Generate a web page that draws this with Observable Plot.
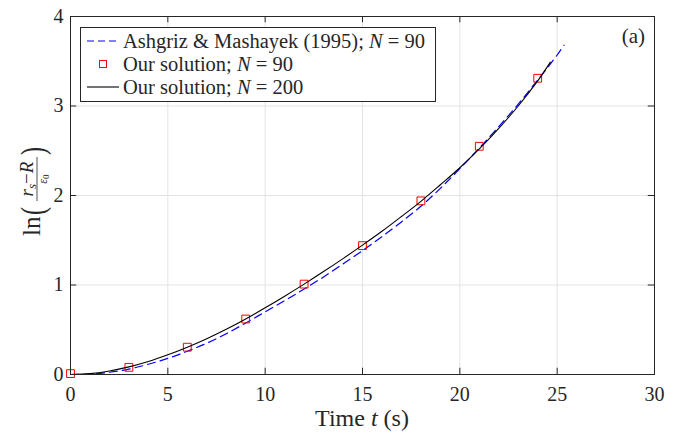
<!DOCTYPE html>
<html>
<head>
<meta charset="utf-8">
<script src="https://cdn.jsdelivr.net/npm/d3@7"></script>
<script src="https://cdn.jsdelivr.net/npm/@observablehq/plot@0.6"></script>
<style>
  html, body { margin: 0; padding: 0; background: #fff; }
  #chart { position: relative; width: 688px; height: 438px; }
</style>
</head>
<body>
<div id="chart"></div>
<script>
// ---- data ----
const xTicks = [0, 5, 10, 15, 20, 25, 30];
const yTicks = [0, 1, 2, 3, 4];

// Ashgriz & Mashayek (1995); N = 90 (dashed blue)
const refT = [0, 1, 2, 3, 4, 5, 6, 7, 8, 9, 10, 11, 12, 13, 14, 15, 16, 17, 18, 19, 20, 21, 22, 23, 24, 25, 25.35];
const refY = [0, 0.005, 0.025, 0.06, 0.115, 0.18, 0.26, 0.35, 0.455, 0.575, 0.70, 0.825, 0.955, 1.09, 1.235, 1.385, 1.54, 1.705, 1.88, 2.08, 2.3, 2.53, 2.77, 3.02, 3.29, 3.57, 3.68];

// Our solution; N = 90 (red squares)
const n90T = [0, 3, 6, 9, 12, 15, 18, 21, 24];
const n90Y = [0.01, 0.08, 0.305, 0.62, 1.01, 1.44, 1.94, 2.55, 3.31];

// Our solution; N = 200 (solid black)
const n200T = [0, 1, 2, 3, 4, 5, 6, 7, 8, 9, 10, 11, 12, 13, 14, 15, 16, 17, 18, 19, 20, 21, 22, 23, 24, 24.65];
const n200Y = [0, 0.01, 0.04, 0.085, 0.145, 0.22, 0.305, 0.4, 0.505, 0.62, 0.745, 0.875, 1.01, 1.15, 1.295, 1.445, 1.6, 1.765, 1.935, 2.12, 2.31, 2.52, 2.75, 3.0, 3.28, 3.49];

const legendLabels = ["Ashgriz & Mashayek (1995); ", "Our solution; ", "Our solution; "];
const legendN = ["90", "90", "200"];

// ---- tables ----
const ref = refT.map((t, i) => ({t, y: refY[i]}));
const n90 = n90T.map((t, i) => ({t, y: n90Y[i]}));
const n200 = n200T.map((t, i) => ({t, y: n200Y[i]}));

const axisColor = "#262626";
const gridColor = "#e3e3e3";
const font = "'Liberation Serif', 'DejaVu Serif', serif";

const plot = Plot.plot({
  width: 688,
  height: 438,
  marginLeft: 70,
  marginRight: 34,
  marginTop: 16,
  marginBottom: 64,
  style: {fontFamily: font, fontSize: "20px", color: axisColor, background: "#fff"},
  x: {domain: [0, 30], label: null},
  y: {domain: [0, 4], label: null},
  marks: [
    Plot.ruleX(xTicks.slice(1, -1), {stroke: gridColor, strokeWidth: 1}),
    Plot.ruleY(yTicks.slice(1, -1), {stroke: gridColor, strokeWidth: 1}),
    // inward ticks
    Plot.ruleX(xTicks, {y1: 0, y2: 0.07, stroke: axisColor}),
    Plot.ruleX(xTicks, {y1: 4, y2: 3.93, stroke: axisColor}),
    Plot.ruleY(yTicks, {x1: 0, x2: 0.32, stroke: axisColor}),
    Plot.ruleY(yTicks, {x1: 30, x2: 29.68, stroke: axisColor}),
    Plot.axisX({ticks: xTicks, tickSize: 0, tickPadding: 12.5, tickFormat: d => d, fill: axisColor}),
    Plot.axisY({ticks: yTicks, tickSize: 0, tickPadding: 7, tickFormat: d => d, fill: axisColor}),
    Plot.line(ref, {x: "t", y: "y", stroke: "#0000ff", strokeWidth: 1.2, strokeDasharray: "8,5", curve: "catmull-rom"}),
    Plot.dot(n90, {x: "t", y: "y", symbol: "square", r: 4.4, stroke: "#ff0000", strokeWidth: 1, fill: "none"}),
    Plot.line(n200, {x: "t", y: "y", stroke: "#000", strokeWidth: 1.1, curve: "catmull-rom"}),
    Plot.frame({stroke: axisColor, strokeWidth: 1})
  ]
});

document.getElementById("chart").appendChild(plot);

// ---- annotations: axis titles, legend, panel label ----
const svg = d3.select(plot);
const xs = plot.scale("x"), ys = plot.scale("y");
const pLeft = xs.apply(0), pRight = xs.apply(30), pTop = ys.apply(4), pBottom = ys.apply(0);

// x title
const xt = svg.append("text")
  .attr("x", (pLeft + pRight) / 2).attr("y", 426)
  .attr("text-anchor", "middle")
  .attr("font-family", font).attr("font-size", 24).attr("fill", axisColor);
xt.append("tspan").text("Time ");
xt.append("tspan").attr("font-style", "italic").text("t");
xt.append("tspan").text(" (s)");

// y title: ln( (r_s − R) / ε0 )
const yg = svg.append("g")
  .attr("transform", `translate(40, ${(pTop + pBottom) / 2}) rotate(-90)`)
  .attr("font-family", font).attr("fill", axisColor).attr("text-anchor", "start");
yg.append("text").attr("x", -41).attr("y", 0).attr("font-size", 25).text("ln");
yg.append("text").attr("transform", "translate(-20,4) scale(1,1.4)").attr("font-size", 24).text("(");
const num = yg.append("text").attr("x", 16).attr("y", -7).attr("text-anchor", "middle").attr("font-size", 19);
num.append("tspan").attr("font-style", "italic").text("r");
num.append("tspan").attr("font-style", "italic").attr("font-size", 13).attr("dy", 3).text("s");
num.append("tspan").attr("dy", -3).text("\u2212");
num.append("tspan").attr("font-style", "italic").text("R");
yg.append("line").attr("x1", -6).attr("x2", 38).attr("y1", -3).attr("y2", -3).attr("stroke", axisColor).attr("stroke-width", 0.8);
const den = yg.append("text").attr("x", 16).attr("y", 7).attr("text-anchor", "middle").attr("font-size", 12);
den.append("tspan").attr("font-style", "italic").text("\u03b5");
den.append("tspan").attr("font-size", 9).attr("dy", 2).text("0");
yg.append("text").attr("transform", "translate(40,4) scale(1,1.4)").attr("font-size", 24).text(")");

// legend
const lg = svg.append("g").attr("font-family", font).attr("font-size", 20.5).attr("fill", axisColor).attr("text-anchor", "start");
lg.append("rect").attr("x", 80.5).attr("y", 27.5).attr("width", 355).attr("height", 74)
  .attr("fill", "#fff").attr("stroke", axisColor).attr("stroke-width", 1);
const rowY = [41, 64, 87];
lg.append("line").attr("x1", 87).attr("x2", 119).attr("y1", rowY[0]).attr("y2", rowY[0])
  .attr("stroke", "#0000ff").attr("stroke-width", 1.2).attr("stroke-dasharray", "7,4");
lg.append("rect").attr("x", 99.5).attr("y", rowY[1] - 3.5).attr("width", 7).attr("height", 7)
  .attr("fill", "none").attr("stroke", "#ff0000").attr("stroke-width", 1);
lg.append("line").attr("x1", 87).attr("x2", 119).attr("y1", rowY[2]).attr("y2", rowY[2])
  .attr("stroke", "#000").attr("stroke-width", 1.1);
legendLabels.forEach((lab, i) => {
  const t = lg.append("text").attr("x", 123).attr("y", rowY[i] + 6.5);
  t.append("tspan").text(lab);
  t.append("tspan").attr("font-style", "italic").text("N");
  t.append("tspan").text(" = " + legendN[i]);
});

// panel label
svg.append("text").attr("x", 645).attr("y", 43).attr("text-anchor", "end")
  .attr("font-family", font).attr("font-size", 21).attr("fill", axisColor).text("(a)");
</script>
</body>
</html>
